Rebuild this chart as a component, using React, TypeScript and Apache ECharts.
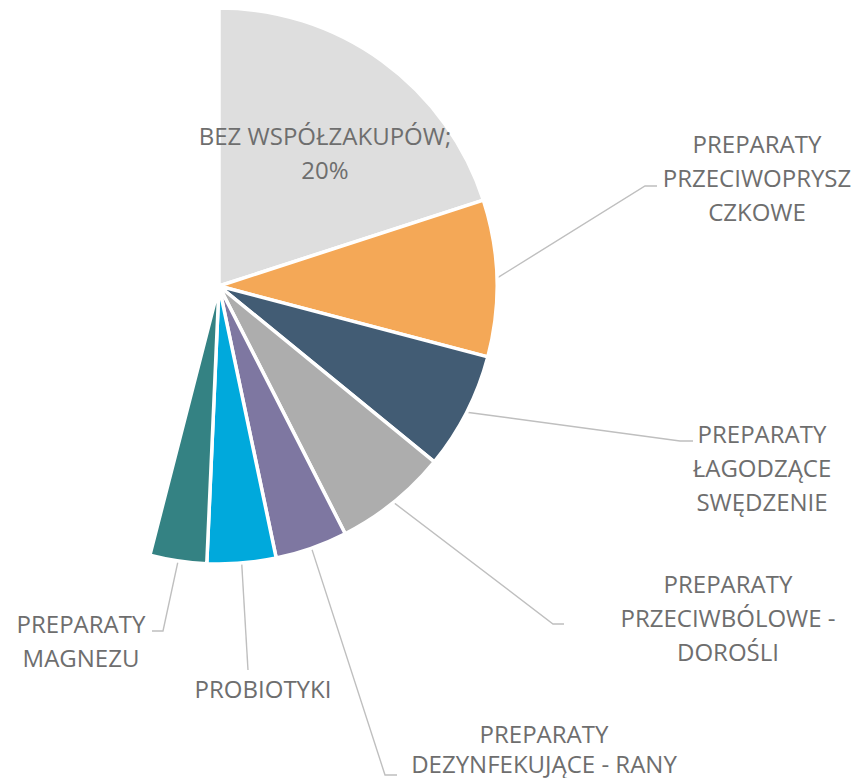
import React, { useEffect, useRef } from "react";
import * as echarts from "echarts";

// Categories (shares of co-purchases, %)
const categories = [
  "BEZ WSPÓŁZAKUPÓW",
  "PREPARATY PRZECIWOPRYSZCZKOWE",
  "PREPARATY ŁAGODZĄCE SWĘDZENIE",
  "PREPARATY PRZECIWBÓLOWE - DOROŚLI",
  "PREPARATY DEZYNFEKUJĄCE - RANY",
  "PROBIOTYKI",
  "PREPARATY MAGNEZU",
];
const values = [20, 9.1, 6.8, 6.6, 4.2, 4.0, 3.3];
// remaining share of the whole, not drawn in the reference
const hiddenRest = 46.0;

// label texts as wrapped in the reference
const labelTexts = [
  "BEZ WSPÓŁZAKUPÓW;",
  "PREPARATY\nPRZECIWOPRYSZ\nCZKOWE",
  "PREPARATY\nŁAGODZĄCE\nSWĘDZENIE",
  "PREPARATY\nPRZECIWBÓLOWE -\nDOROŚLI",
  "PREPARATY\nDEZYNFEKUJĄCE - RANY",
  "PROBIOTYKI",
  "PREPARATY\nMAGNEZU",
];

const colors = ["#DEDEDE", "#F4A857", "#425C74", "#ADADAD", "#7E77A1", "#00A9DC", "#348283"];

// label placement (centre of text block) and leader-line bends
const labelCenters: number[][] = [
  [325, 152],
  [757, 177.5],
  [762, 467],
  [728, 617],
  [544, 748],
  [263, 688],
  [81, 640],
];
const labelLineHeights = [34, 34, 34, 34, 30, 34, 34];
const leaderBends: (number[][] | null)[] = [
  null,
  [[645, 186], [657, 186]],
  [[680, 441], [693, 441]],
  [[553, 624], [564, 624]],
  [[385, 775], [397, 775]],
  [[248, 670], [248, 670]],
  [[163, 631], [152, 631]],
];

export default function App() {
  const ref = useRef<HTMLDivElement>(null);

  useEffect(() => {
    if (!ref.current) return;
    const chart = echarts.init(ref.current, undefined, { renderer: "svg" });

    const data: any[] = categories.map((name, i) => ({
      name,
      value: values[i],
      itemStyle: { color: colors[i] },
      label: {
        position: i === 0 ? "inside" : "outside",
        lineHeight: labelLineHeights[i],
      },
      labelLine: { show: i !== 0 },
    }));
    data.push({
      name: "",
      value: hiddenRest,
      itemStyle: { color: "rgba(0,0,0,0)", borderWidth: 0 },
      label: { show: false },
      labelLine: { show: false },
      emphasis: { disabled: true },
      silent: true,
    });

    chart.setOption({
      animation: false,
      backgroundColor: "#ffffff",
      series: [
        {
          type: "pie",
          center: [219, 286],
          radius: [0, 278],
          startAngle: 90,
          clockwise: true,
          avoidLabelOverlap: false,
          emphasis: { disabled: true },
          itemStyle: { borderColor: "#ffffff", borderWidth: 3.5 },
          label: {
            show: true,
            color: "#6E6E6E",
            fontFamily: "Open Sans",
            fontSize: 24,
            lineHeight: 34,
            align: "center",
            formatter: (p: any) =>
              p.dataIndex === 0
                ? `${labelTexts[0]}\n${Math.round(p.percent)}%`
                : labelTexts[p.dataIndex] ?? "",
          },
          labelLine: {
            show: true,
            length: 20,
            length2: 10,
            lineStyle: { color: "#BFBFBF", width: 1.4 },
          },
          labelLayout: (params: any) => {
            const i = params.dataIndex;
            const c = labelCenters[i];
            if (!c) return {};
            const out: any = { x: c[0], y: c[1], align: "center", verticalAlign: "middle" };
            const bends = leaderBends[i];
            if (bends && params.labelLinePoints) {
              const p0 = params.labelLinePoints[0];
              out.labelLinePoints = [p0, bends[0], bends[1]];
            }
            return out;
          },
          data,
        },
      ],
    });

    return () => chart.dispose();
  }, []);

  return (
    <div
      ref={ref}
      style={{ position: "fixed", left: 0, top: 0, width: 858, height: 778 }}
    />
  );
}
